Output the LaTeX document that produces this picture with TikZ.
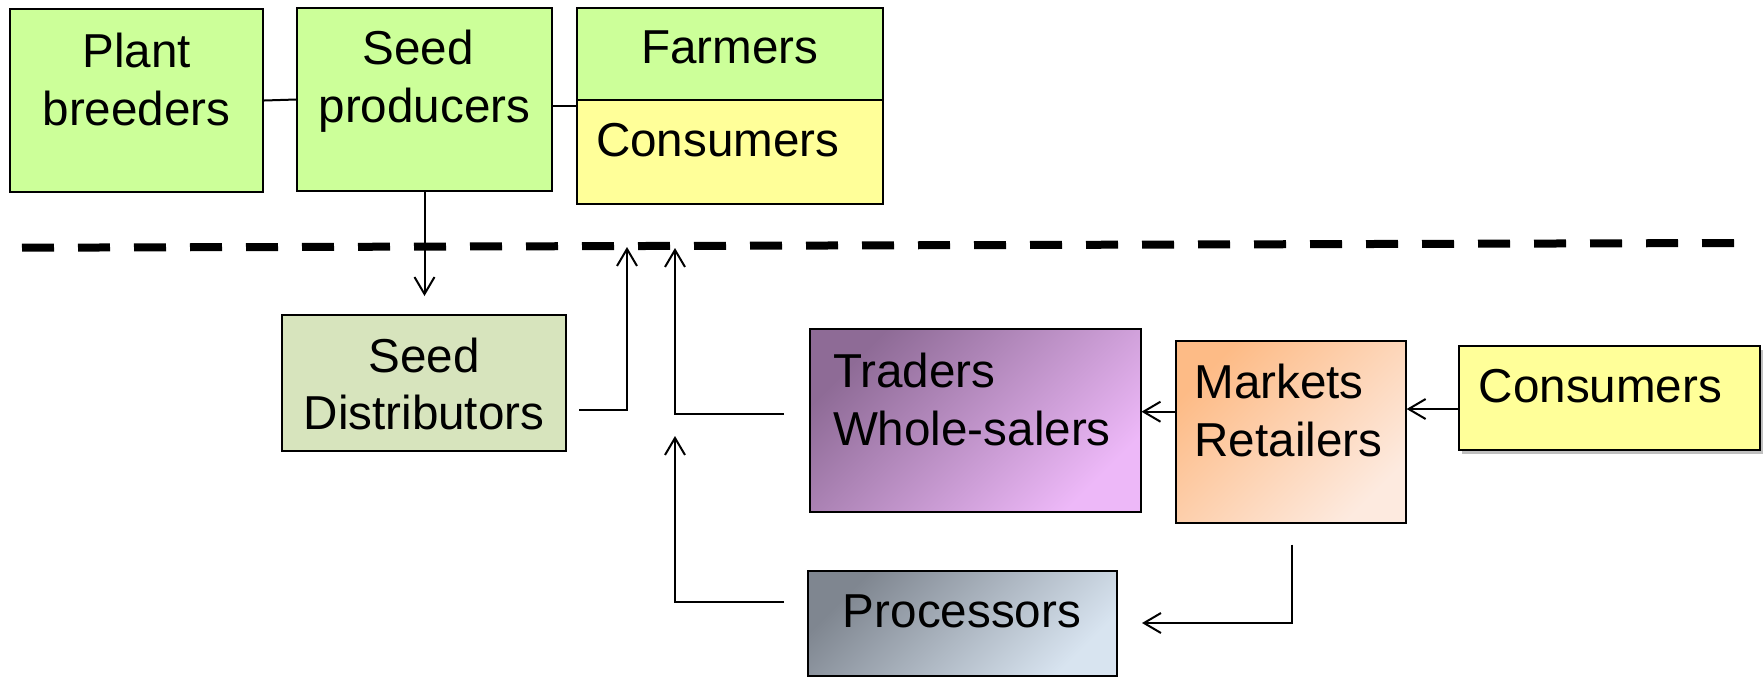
\documentclass[tikz,border=0pt]{standalone}
\usepackage{fontspec}
\setmainfont{Liberation Sans}
\usetikzlibrary{arrows.meta,calc,shadows}

\definecolor{leaf}{HTML}{CCFF99}
\definecolor{cream}{HTML}{FFFF99}
\definecolor{olive}{HTML}{D7E4BD}
\definecolor{plumdark}{HTML}{8E6B96}
\definecolor{plumlight}{HTML}{EDB8F8}
\definecolor{peachdark}{HTML}{FDBB86}
\definecolor{peachlight}{HTML}{FDEADF}
\definecolor{steeldark}{HTML}{7F8690}
\definecolor{steellight}{HTML}{D8E4F0}

\begin{document}
\begin{tikzpicture}[x=0.5pt,y=-0.5pt,line width=1pt,
  box/.style={draw=black,line width=1pt,inner sep=0pt,rectangle},
  grad/.style 2 args={top color=#1,bottom color=#2,shading angle=45},
  lbl/.style={inner sep=0pt,font=\fontsize{23.8pt}{29pt}\selectfont},
  arr/.style={-{Straight Barb[length=8.5pt,width=10pt]},line width=1pt},
  divider/.style={line width=4pt,dash pattern=on 16pt off 12pt}]

\useasboundingbox (0,0) rectangle (1763,677);

% upper row: breeding and seed production
\node[box,fill=leaf,minimum width=126.5pt,minimum height=91.5pt] (pb) at (136.5,100.5) {};
\node[box,fill=leaf,minimum width=127.5pt,minimum height=91.5pt] (sp) at (424.5,99.5) {};
\node[box,fill=leaf,minimum width=153pt,minimum height=46pt] (fa) at (730,54) {};
\node[box,fill=cream,minimum width=153pt,minimum height=52pt] (fc) at (730,152) {};

% lower part: distribution and market chain
\node[box,fill=olive,minimum width=142pt,minimum height=68pt] (sd) at (424,383) {};
\node[box,grad={plumdark}{plumlight},minimum width=165.25pt,minimum height=91.5pt] (tr) at (975.25,420.5) {};
\node[box,grad={peachdark}{peachlight},minimum width=115pt,minimum height=91pt] (mk) at (1290.65,431.7) {};
\node[box,fill=cream,drop shadow={shadow xshift=1.5pt,shadow yshift=-2pt,fill=black,opacity=0.25},
      minimum width=150.5pt,minimum height=52pt] (cn) at (1609.5,398) {};
\node[box,grad={steeldark}{steellight},minimum width=154.5pt,minimum height=52.5pt] (pr) at (962.5,623.5) {};

% labels
\node[lbl,anchor=north,align=center] (pbt) at (136.5,31.6) {Plant\\breeders};
\node[lbl,anchor=north,align=center] (spt) at (424.5,29) {Seed\makebox[6.5pt]{}\\producers};
\node[lbl,anchor=base] (fat) at (730,63.3) {Farmers};
\node[lbl,anchor=base west] (fct) at (595,156.7) {Consumers};
\node[lbl,anchor=north,align=center,font=\fontsize{23.8pt}{28.3pt}\selectfont] (sdt) at (424,337) {Seed\\Distributors};
\node[lbl,anchor=north west,align=left] (trt) at (832,351.6) {Traders\\Whole-salers};
\node[lbl,anchor=north west,align=left] (mkt) at (1193.5,362.6) {Markets\\Retailers};
\node[lbl,anchor=base west] (cnt) at (1477.7,402.7) {Consumers};
\node[lbl,anchor=base] (prt) at (962,627) {Processors};

% dashed divider
\coordinate (dl) at (22,247.7);
\coordinate (dr) at (1734,243);
\draw[divider] (dl) -- (dr);

% arrow ends at the divider and below it
\coordinate (t1) at (627,247);
\coordinate (t2) at (675,248);
\coordinate (t3) at (675,436);

% connectors
\draw (pb.east) -- (sp.west);
\coordinate (spr) at ($(sp.east)+(0,6.5)$);
\draw (spr) -- (spr -| fc.west);
\draw[arr,shorten >=9pt] (sp.south) -- (sp.south |- sd.north);
\draw[arr] ($(sd.east)+(12,27)$) -| (t1);
\draw[arr] ($(tr.west)+(-25,-6.5)$) -| (t2);
\draw[arr] ($(pr.west)+(-23,-21.5)$) -| (t3);
\coordinate (mkl) at ($(mk.west)+(0,-20)$);
\draw[arr] (mkl) -- (mkl -| tr.east);
\coordinate (cnl) at ($(cn.west)+(0,11)$);
\draw[arr] (cnl) -- (cnl -| mk.east);
\coordinate (mkb) at ($(mk.south)+(1.35,21)$);
\coordinate (prr) at ($(pr.east)+(24,-0.5)$);
\draw[arr] (mkb) |- (prr);

\end{tikzpicture}
\end{document}
